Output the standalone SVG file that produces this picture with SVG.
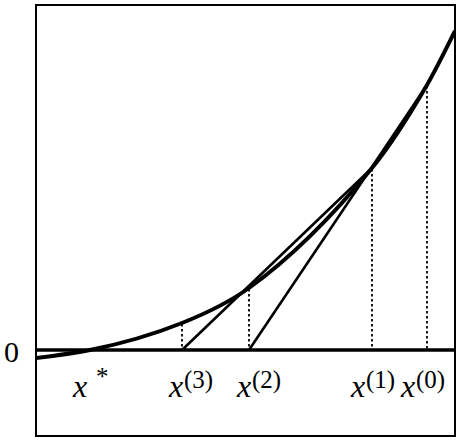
<svg xmlns="http://www.w3.org/2000/svg" width="461" height="446" viewBox="0 0 461 446">
<defs><clipPath id="c"><rect x="36" y="5" width="419" height="431"/></clipPath></defs>
<rect id="frame" x="36" y="5" width="419" height="431" fill="none" stroke="#000" stroke-width="2"/>
<g id="plot" clip-path="url(#c)" stroke="#000" fill="none">
<line x1="36" y1="350" x2="455" y2="350" stroke-width="3.5"/>
<path id="curve" stroke-width="4" d="M36,358 C54,355.84 72,353.6 90,350 C120.67,343.87 151.33,335.27 182,323 C204.33,314.07 226.67,304.08 249,288 C290,258.48 331,218.02 372,168 C390.33,145.63 408.67,116.53 427,85 C436.33,68.95 445.67,49.67 455,31"/>
</g>
<g id="connectors" stroke="#000" fill="none">
<g stroke-width="2.6">
<line x1="249" y1="350" x2="427" y2="85"/>
<line x1="182" y1="350" x2="372" y2="168"/>
</g>
<g stroke-width="1.8" stroke-dasharray="2.5 2.5">
<line x1="427" y1="86" x2="427" y2="349"/>
<line x1="372" y1="169" x2="372" y2="349"/>
<line x1="249" y1="289" x2="249" y2="349"/>
<line x1="182" y1="324" x2="182" y2="349"/>
</g>
</g>
<text x="4" y="362" font-family="Liberation Serif" font-size="30">0</text>
<text x="73" y="397" font-family="Liberation Serif" font-size="32" font-style="italic">x</text>
<text x="96" y="385" font-family="Liberation Serif" font-size="25">*</text>
<text x="169" y="397" font-family="Liberation Serif" font-size="32" font-style="italic">x</text>
<text x="184" y="388" font-family="Liberation Serif" font-size="25">(3)</text>
<text x="237" y="397" font-family="Liberation Serif" font-size="32" font-style="italic">x</text>
<text x="252" y="388" font-family="Liberation Serif" font-size="25">(2)</text>
<text x="351" y="397" font-family="Liberation Serif" font-size="32" font-style="italic">x</text>
<text x="366" y="388" font-family="Liberation Serif" font-size="25">(1)</text>
<text x="401" y="397" font-family="Liberation Serif" font-size="32" font-style="italic">x</text>
<text x="416" y="388" font-family="Liberation Serif" font-size="25">(0)</text>
</svg>
